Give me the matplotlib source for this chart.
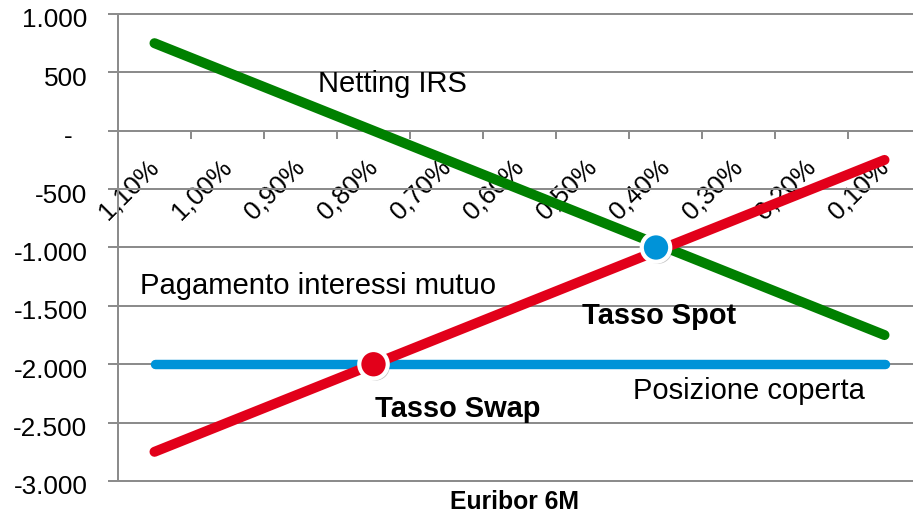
import matplotlib
matplotlib.use("Agg")
import matplotlib.pyplot as plt
from matplotlib.ticker import FixedLocator, FuncFormatter
from matplotlib.transforms import ScaledTranslation
import matplotlib.patheffects as pe

plt.rcParams['font.family'] = ['Liberation Sans', 'DejaVu Sans']

# Euribor 6M scenarios (category axis)
rates = ["1,10%", "1,00%", "0,90%", "0,80%", "0,70%", "0,60%",
         "0,50%", "0,40%", "0,30%", "0,20%", "0,10%"]
# Cash flows per scenario
interest_payment = [-2750, -2500, -2250, -2000, -1750, -1500,
                    -1250, -1000, -750, -500, -250]
irs_netting = [750, 500, 250, 0, -250, -500,
               -750, -1000, -1250, -1500, -1750]
hedged_position = [-2000, -2000, -2000, -2000, -2000, -2000,
                   -2000, -2000, -2000, -2000, -2000]
# Highlighted points (category position, value)
swap_point = (3.0, -2000)
spot_point = (6.87, -1000)

GREEN = "#008000"
RED = "#E2001A"
BLUE = "#0093D8"
GRID = "#8C8C8C"

W, H = 913, 516
fig = plt.figure(figsize=(W / 100, H / 100), dpi=100)
ax = fig.add_axes([118 / W, 1 - 481 / H, 803 / W, 467 / H])

x = list(range(len(rates)))
lw = 7.2
ax.plot(x, hedged_position, color=BLUE, lw=6.8, solid_capstyle='round', zorder=3)
ax.plot(x, irs_netting, color=GREEN, lw=lw, solid_capstyle='round', zorder=4)
ax.plot(x, interest_payment, color=RED, lw=lw, solid_capstyle='round', zorder=5)

shadow = [pe.SimplePatchShadow(offset=(1.5, -1.5), shadow_rgbFace='#555555', alpha=0.35), pe.Normal()]
ax.plot([swap_point[0]], [swap_point[1]], 'o', ms=20.5, mfc=RED, mec='white', mew=3,
        zorder=6, path_effects=shadow)
ax.plot([spot_point[0]], [spot_point[1]], 'o', ms=20.5, mfc=BLUE, mec='white', mew=3,
        zorder=6, path_effects=shadow)

ax.set_xlim(-0.5, 10.5)
ax.set_ylim(-3000, 1000)

# y axis
yticks = list(range(-3000, 1001, 500))
ax.yaxis.set_major_locator(FixedLocator(yticks))

def it_fmt(v, pos):
    if v == 0:
        return "-\u00a0\u00a0"
    return f"{v:,.0f}".replace(",", ".")

ax.yaxis.set_major_formatter(FuncFormatter(it_fmt))
ax.tick_params(axis='y', length=7, width=1.44, color=GRID, labelsize=18.8,
               pad=15, labelcolor='black')
for lab in ax.get_yticklabels():
    lab.set_transform(lab.get_transform() + ScaledTranslation(0, -0.04, fig.dpi_scale_trans))
ax.grid(axis='y', color=GRID, lw=1.44, zorder=1)
for gl in ax.get_ygridlines():
    gl.set_clip_on(False)

# x axis crossing at zero, category boundaries as tick marks
ax.spines['bottom'].set_position(('data', 0))
ax.spines['bottom'].set_color(GRID)
ax.spines['bottom'].set_linewidth(1.44)
ax.spines['left'].set_color(GRID)
ax.spines['left'].set_linewidth(1.44)
ax.spines['top'].set_visible(False)
ax.spines['right'].set_visible(False)
ax.set_xticks(x)
ax.set_xticklabels(rates, rotation=45, ha='right', va='top', fontsize=18.8)
ax.set_xticks([i + 0.5 for i in range(-1, 11)], minor=True)
ax.tick_params(axis='x', which='major', length=0, pad=17)
ax.tick_params(axis='x', which='minor', length=6, width=1.44, color=GRID)
for lab in ax.get_xticklabels():
    lab.set_transform(lab.get_transform() + ScaledTranslation(0.09, 0, fig.dpi_scale_trans))

# series annotations
ax.text(2.24, 334, "Netting IRS", fontsize=21, va='baseline', ha='left', zorder=7)
ax.text(-0.2, -1396, "Pagamento interessi mutuo", fontsize=21.1, va='baseline', ha='left', zorder=7)
ax.text(5.86, -1653, "Tasso Spot", fontsize=20.9, fontweight='bold', va='baseline', ha='left', zorder=7)
ax.text(3.02, -2450, "Tasso Swap", fontsize=20.9, fontweight='bold', va='baseline', ha='left', zorder=7)
ax.text(6.55, -2295, "Posizione coperta", fontsize=21, va='baseline', ha='left', zorder=7)

fig.text(514 / W, 1 - 509 / H, "Euribor 6M", fontsize=17.8, fontweight='bold',
         ha='center', va='baseline')

fig.savefig("out.png", dpi=100)
